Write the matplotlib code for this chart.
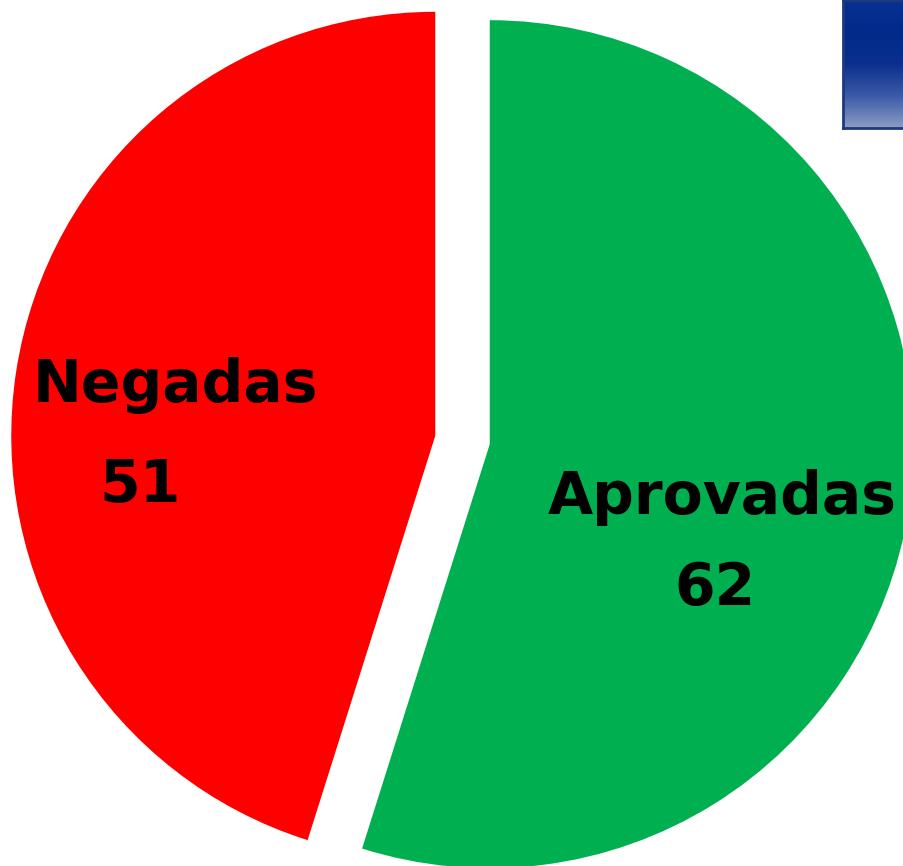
import numpy as np
import matplotlib.pyplot as plt
from matplotlib.colors import LinearSegmentedColormap

labels = ["Aprovadas", "Negadas"]
values = [62, 51]
colors = ["#00AF50", "#FF0000"]
explode = [0.065, 0.065]

W, H = 904, 866
R = 424.0          # pie radius in pixels
cx, cy = 462.5, 440.0  # pie centre in pixels (from top-left)

fig = plt.figure(figsize=(W / 100, H / 100), dpi=100)
ax = fig.add_axes([0, 0, 1, 1])
ax.pie(values, colors=colors, explode=explode, startangle=90,
       counterclock=False, radius=1.0, wedgeprops=dict(linewidth=0))
ax.set_xlim(-cx / R, (W - cx) / R)
ax.set_ylim(-(H - cy) / R, cy / R)
ax.set_aspect("auto")
ax.axis("off")

font = dict(fontfamily="DejaVu Sans", fontweight="bold", fontsize=42,
            color="black", ha="center", va="center", transform=fig.transFigure)
fig.text(175 / W, 1 - 385 / H, labels[1], **font)
fig.text(140 / W, 1 - 485 / H, str(values[1]), **font)
fig.text(722 / W, 1 - 497 / H, labels[0], **font)
fig.text(715 / W, 1 - 588 / H, str(values[0]), **font)

# blue decorative box in the top-right corner
bx = fig.add_axes([843 / W, 1 - 128 / H, (W - 843) / W, 128 / H])
grad = np.linspace(0, 1, 128).reshape(-1, 1)
cmap = LinearSegmentedColormap.from_list(
    "blue", ["#8C9DC4", "#3A5AA6", "#0B2F8E", "#002B8A", "#0A3090"])
bx.imshow(grad[::-1], aspect="auto", cmap=cmap, extent=[0, 1, 0, 1])
bx.set_xticks([])
bx.set_yticks([])
for s in bx.spines.values():
    s.set_color("#1D3A7A")
    s.set_linewidth(2)

fig.savefig("out.png", dpi=100)
